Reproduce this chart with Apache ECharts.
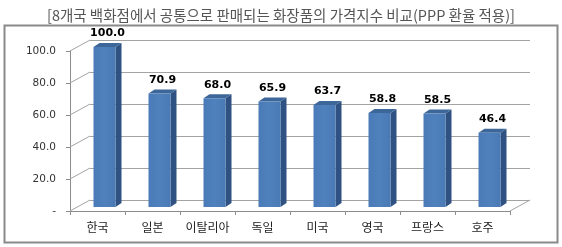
<!DOCTYPE html>
<html><head><meta charset="utf-8">
<script src="https://cdn.jsdelivr.net/npm/echarts@6/dist/echarts.min.js"></script>
<style>html,body{margin:0;padding:0;background:#fff}#c{width:562px;height:247px}</style>
</head><body><div id="c"></div>
<script>
const titleText = '[8개국 백화점에서 공통으로 판매되는 화장품의 가격지수 비교(PPP 환율 적용)]';
const categories = ['한국', '일본', '이탈리아', '독일', '미국', '영국', '프랑스', '호주'];
const values = [100.0, 70.9, 68.0, 65.9, 63.7, 58.8, 58.5, 46.4];
const yTicks = [0, 20, 40, 60, 80, 100];

const DX = 20, DY = -11;      // depth of the 3D box
const BX = 7, BY = -4;        // bar front offset within depth
const SX = 6, SY = -4;        // bar depth

const chart = echarts.init(document.getElementById('c'), null, {renderer: 'canvas'});
chart.setOption({
  animation: false,
  backgroundColor: '#fff',
  title: {
    text: titleText, left: 'center', top: 3,
    textStyle: {fontFamily: 'Noto Sans CJK KR', fontSize: 14.5, fontWeight: 'normal', color: '#555'}
  },
  graphic: [{
    type: 'rect', shape: {x: 4.5, y: 25.5, width: 553, height: 217},
    style: {fill: 'none', stroke: '#8a8a8a', lineWidth: 2}, z: -1
  }],
  grid: [
    {left: 70, top: 51, width: 440, height: 160},
    {left: 70 + DX, top: 51 + DY, width: 440, height: 160}
  ],
  xAxis: [
    {type: 'category', data: categories, gridIndex: 0,
     axisLine: {show: true, lineStyle: {color: '#8c8c8c', width: 1}},
     axisTick: {show: true, length: 4, interval: 0, lineStyle: {color: '#8c8c8c'}},
     axisLabel: {interval: 0, margin: 10, fontFamily: 'Noto Sans CJK KR', fontSize: 12, color: '#222'}},
    {type: 'category', data: categories, gridIndex: 1, show: false}
  ],
  yAxis: [
    {type: 'value', gridIndex: 0, min: 0, max: 100, interval: 20,
     axisLine: {show: true, lineStyle: {color: '#8c8c8c', width: 1}},
     axisTick: {show: true, length: 4, lineStyle: {color: '#8c8c8c'}},
     splitLine: {show: false},
     axisLabel: {margin: 14, fontFamily: 'DejaVu Sans', fontSize: 10.5, color: '#333',
                 formatter: v => v === 0 ? '-' : v.toFixed(1)}},
    {type: 'value', gridIndex: 1, min: 0, max: 100, interval: 20,
     axisLine: {show: false}, axisTick: {show: false}, axisLabel: {show: false},
     splitLine: {show: true, lineStyle: {color: '#a3a3a3', width: 1}}}
  ],
  series: [
    {
      type: 'custom', xAxisIndex: 0, yAxisIndex: 0, z: 1,
      data: yTicks.map(v => [0, v]),
      renderItem: function (params, api) {
        const v = api.value(1);
        const c = api.coord([0, v]);
        const w = api.size([1, 0])[0];
        const x0 = c[0] - w / 2;
        const children = [{
          type: 'line', shape: {x1: x0, y1: c[1], x2: x0 + DX, y2: c[1] + DY},
          style: {stroke: '#a3a3a3', lineWidth: 1}
        }];
        if (v === 0) {
          const xr = x0 + w * categories.length;
          children.push({
            type: 'line', shape: {x1: xr, y1: c[1], x2: xr + DX, y2: c[1] + DY},
            style: {stroke: '#a3a3a3', lineWidth: 1}
          });
        }
        return {type: 'group', children};
      }
    },
    {
      type: 'custom', xAxisIndex: 0, yAxisIndex: 0, z: 5,
      data: values.map((v, i) => [i, v]),
      renderItem: function (params, api) {
        const i = api.value(0), v = api.value(1);
        const top = api.coord([i, v]);
        const bot = api.coord([i, 0]);
        const w = api.size([1, 0])[0] * 0.4;
        const cx = top[0] + BX;
        const l = cx - w / 2, r = cx + w / 2;
        const t = top[1] + BY, b = bot[1] + BY;
        return {type: 'group', children: [
          {type: 'polygon', shape: {points: [[r, t], [r + SX, t + SY], [r + SX, b + SY], [r, b]]},
           style: {fill: '#2f5282'}},
          {type: 'polygon', shape: {points: [[l, t], [l + SX, t + SY], [r + SX, t + SY], [r, t]]},
           style: {fill: '#3d6699'}},
          {type: 'rect', shape: {x: l, y: t, width: w, height: b - t},
           style: {fill: new echarts.graphic.LinearGradient(0, 0, 1, 0, [
             {offset: 0, color: '#4a7bb8'}, {offset: 0.5, color: '#4f81bd'}, {offset: 1, color: '#4a7ab5'}])}},
          {type: 'text', x: cx + SX / 2, y: t + SY - 4,
           style: {text: v.toFixed(1), fontFamily: 'DejaVu Sans', fontWeight: 'bold', fontSize: 11,
                   fill: '#000', align: 'center', verticalAlign: 'bottom'}}
        ]};
      }
    }
  ]
});
</script></body></html>
